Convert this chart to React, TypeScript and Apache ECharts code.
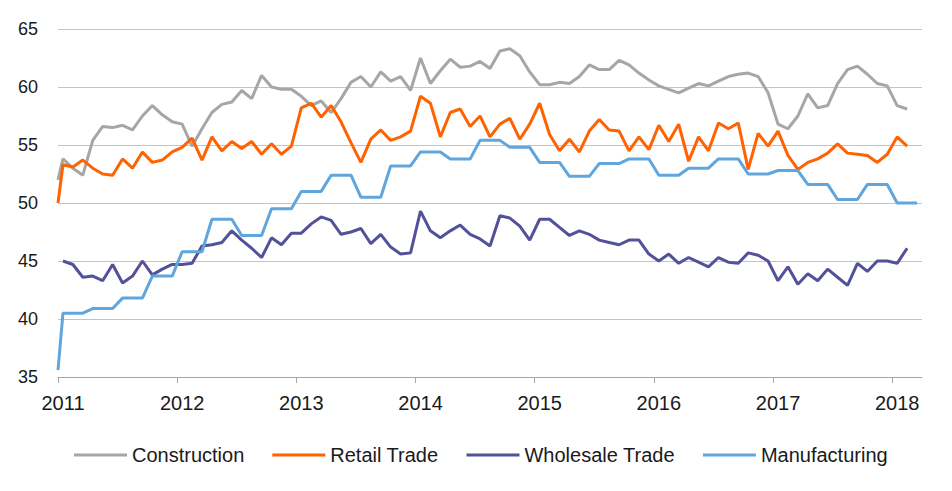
import React, { useEffect, useRef } from "react";
import * as echarts from "echarts";

// Month keys Jan 2011 .. Mar 2018 (points sit mid-month)
const months: string[] = [];
for (let y = 2011; y <= 2018; y++) {
  for (let m = 1; m <= 12; m++) {
    if (y === 2018 && m > 3) break;
    months.push(`${y}-${String(m).padStart(2, "0")}`);
  }
}
const toX = (key: string) => {
  const [y, m] = key.split("-").map(Number);
  return y + (m - 0.5) / 12;
};

const yearTicks = [2011, 2012, 2013, 2014, 2015, 2016, 2017, 2018];
const seriesNames = ["Construction", "Retail Trade", "Wholesale Trade", "Manufacturing"];
const colors = ["#a6a6a6", "#ff6200", "#525199", "#60a6dd"];

// value plotted at the axis start (2011.0) for three of the series
const startValues: (number | null)[] = [52.0, 50.0, null, 35.6];

const construction = [
  53.8, 53.0, 52.4, 55.4, 56.6, 56.5, 56.7, 56.3, 57.5, 58.4, 57.6, 57.0,
  56.8, 54.9, 56.4, 57.8, 58.5, 58.7, 59.7, 59.0, 61.0, 60.0, 59.8, 59.8,
  59.2, 58.4, 58.8, 57.8, 59.0, 60.4, 60.9, 60.0, 61.3, 60.5, 60.9, 59.7,
  62.5, 60.3, 61.4, 62.4, 61.7, 61.8, 62.2, 61.6, 63.1, 63.3, 62.7, 61.3,
  60.2, 60.2, 60.4, 60.3, 60.9, 61.9, 61.5, 61.5, 62.3, 61.9, 61.2, 60.6,
  60.1, 59.8, 59.5, 59.9, 60.3, 60.1, 60.5, 60.9, 61.1, 61.2, 60.9, 59.5,
  56.8, 56.4, 57.5, 59.4, 58.2, 58.4, 60.3, 61.5, 61.8, 61.1, 60.3, 60.1,
  58.4, 58.1,
];

const retail = [
  53.3, 53.1, 53.7, 53.0, 52.5, 52.4, 53.8, 53.0, 54.4, 53.5, 53.7, 54.4,
  54.8, 55.6, 53.7, 55.7, 54.5, 55.3, 54.7, 55.3, 54.2, 55.1, 54.2, 54.9,
  58.2, 58.6, 57.4, 58.4, 57.0, 55.2, 53.5, 55.5, 56.3, 55.4, 55.7, 56.2,
  59.2, 58.6, 55.7, 57.8, 58.1, 56.6, 57.5, 55.7, 56.8, 57.3, 55.5, 56.8,
  58.6, 55.9, 54.5, 55.5, 54.4, 56.2, 57.2, 56.3, 56.2, 54.5, 55.7, 54.6,
  56.7, 55.3, 56.8, 53.6, 55.7, 54.5, 56.9, 56.4, 56.9, 52.9, 56.0, 54.9,
  56.2, 54.1, 52.9, 53.5, 53.8, 54.3, 55.1, 54.3, 54.2, 54.1, 53.5, 54.2,
  55.7, 54.9,
];

const wholesale = [
  45.0, 44.7, 43.6, 43.7, 43.3, 44.7, 43.1, 43.7, 45.0, 43.8, 44.3, 44.7,
  44.7, 44.8, 46.3, 46.4, 46.6, 47.6, 46.8, 46.1, 45.3, 47.0, 46.4, 47.4,
  47.4, 48.2, 48.8, 48.5, 47.3, 47.5, 47.8, 46.5, 47.3, 46.2, 45.6, 45.7,
  49.3, 47.6, 47.0, 47.6, 48.1, 47.3, 46.9, 46.3, 48.9, 48.7, 48.0, 46.8,
  48.6, 48.6, 47.9, 47.2, 47.6, 47.3, 46.8, 46.6, 46.4, 46.8, 46.8, 45.6,
  45.0, 45.6, 44.8, 45.3, 44.9, 44.5, 45.3, 44.9, 44.8, 45.7, 45.5, 45.0,
  43.3, 44.5, 43.0, 43.9, 43.3, 44.3, 43.6, 42.9, 44.8, 44.1, 45.0, 45.0,
  44.8, 46.1,
];

const manufacturing = [
  40.5, 40.5, 40.5, 40.9, 40.9, 40.9, 41.8, 41.8, 41.8, 43.7, 43.7, 43.7,
  45.8, 45.8, 45.8, 48.6, 48.6, 48.6, 47.2, 47.2, 47.2, 49.5, 49.5, 49.5,
  51.0, 51.0, 51.0, 52.4, 52.4, 52.4, 50.5, 50.5, 50.5, 53.2, 53.2, 53.2,
  54.4, 54.4, 54.4, 53.8, 53.8, 53.8, 55.4, 55.4, 55.4, 54.8, 54.8, 54.8,
  53.5, 53.5, 53.5, 52.3, 52.3, 52.3, 53.4, 53.4, 53.4, 53.8, 53.8, 53.8,
  52.4, 52.4, 52.4, 53.0, 53.0, 53.0, 53.8, 53.8, 53.8, 52.5, 52.5, 52.5,
  52.8, 52.8, 52.8, 51.6, 51.6, 51.6, 50.3, 50.3, 50.3, 51.6, 51.6, 51.6,
  50.0, 50.0, 50.0,
];

const allValues = [construction, retail, wholesale, manufacturing];
const FONT = "'Liberation Sans', Arial, sans-serif";

export default function App() {
  const ref = useRef<HTMLDivElement>(null);
  useEffect(() => {
    if (!ref.current) return;
    const chart = echarts.init(ref.current, undefined, { renderer: "svg" });
    const series = seriesNames.map((name, i) => {
      const pts: [number, number][] = [];
      const sv = startValues[i];
      if (sv !== null) pts.push([2011, sv]);
      allValues[i].forEach((v, k) => pts.push([toX(months[k]), v]));
      return {
        name,
        type: "line",
        data: pts,
        showSymbol: false,
        symbol: "none",
        color: colors[i],
        lineStyle: { width: 3, color: colors[i] },
        z: i === 0 ? 2 : 3,
      };
    });
    chart.setOption({
      animation: false,
      grid: { left: 58, right: 30, top: 29, bottom: 114, containLabel: false },
      xAxis: {
        type: "value",
        min: 2011,
        max: 2018.25,
        interval: 1,
        axisLine: { show: true, lineStyle: { color: "#a6a6a6", width: 1 } },
        axisTick: {
          show: true,
          length: 6,
          lineStyle: { color: "#a6a6a6" },
          customValues: yearTicks,
        },
        axisLabel: {
          customValues: yearTicks,
          formatter: (v: number) => String(v),
          fontSize: 20,
          fontFamily: FONT,
          color: "#1a1a1a",
          margin: 16,
          padding: [0, 0, 0, 10],
        },
        splitLine: { show: false },
      },
      yAxis: {
        type: "value",
        min: 35,
        max: 65,
        interval: 5,
        axisLine: { show: false },
        axisTick: { show: false },
        axisLabel: { fontSize: 18, fontFamily: FONT, color: "#1a1a1a", margin: 20 },
        splitLine: { show: true, lineStyle: { color: "#c4c4c4", width: 1 } },
      },
      legend: {
        data: seriesNames,
        left: 69,
        top: 440,
        icon: "rect",
        itemWidth: 53,
        itemHeight: 3,
        itemGap: 28,
        textStyle: { fontSize: 20, fontFamily: FONT, color: "#1a1a1a" },
      },
      series,
    });
    return () => chart.dispose();
  }, []);
  return (
    <div
      ref={ref}
      style={{ position: "fixed", left: 0, top: 0, width: 952, height: 491, background: "#fff" }}
    />
  );
}
